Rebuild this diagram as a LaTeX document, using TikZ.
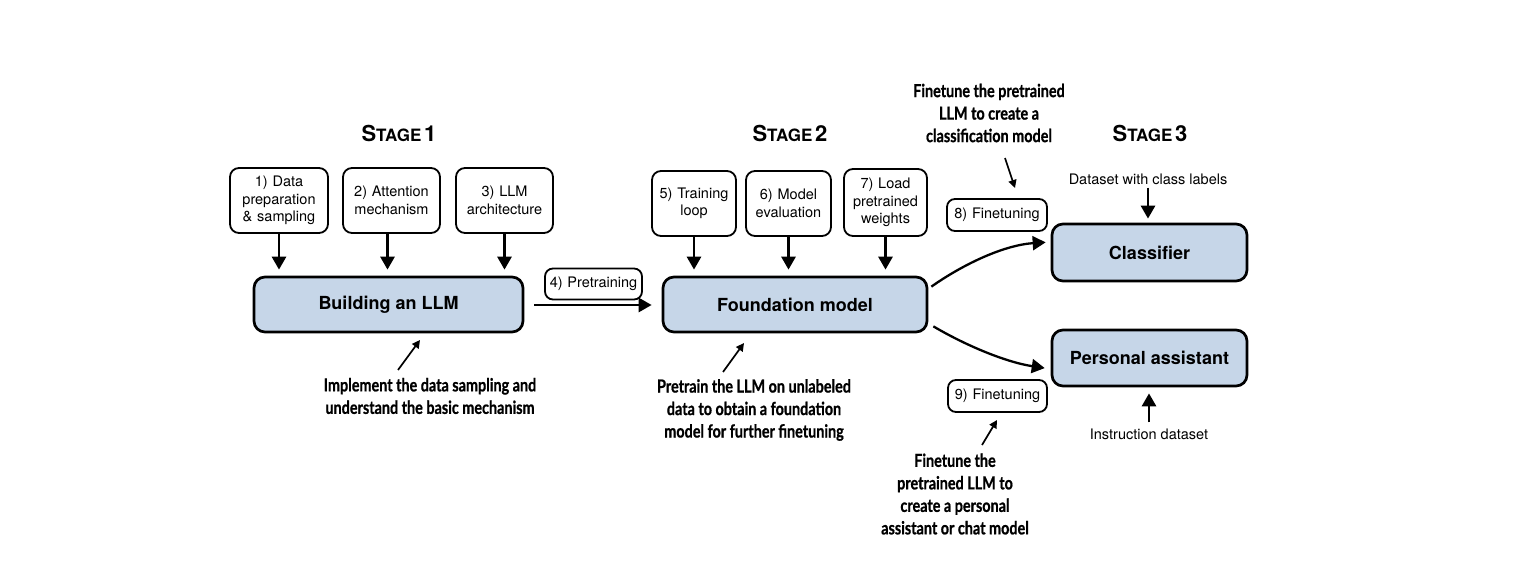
\documentclass[tikz,border=0pt]{standalone}
\usepackage{fontspec}
\setmainfont{TeX Gyre Heros}
\newfontfamily\annfont[FakeStretch=0.8, BoldFeatures={FakeBold=0.8}]{Lato}
\usetikzlibrary{arrows.meta,calc}
\definecolor{boxblue}{RGB}{198,214,232}
\tikzset{
  stepbox/.style={draw, line width=1.8pt, rounded corners=9pt, align=center,
    font=\fontsize{14.5}{17.5}\selectfont, inner sep=0pt},
  mainbox/.style={draw, line width=2.7pt, rounded corners=11pt, fill=boxblue,
    font=\bfseries\fontsize{18}{22}\selectfont, inner sep=0pt},
  plain/.style={align=center, font=\fontsize{14.5}{17.5}\selectfont, inner sep=0pt},
  ann/.style={align=center, font=\annfont\bfseries\fontsize{18}{22.5}\selectfont, inner sep=0pt},
  stagetitle/.style={font=\bfseries, inner sep=0pt},
  bigarrow/.style={line width=2.8pt, -{Triangle[width=14pt,length=13pt]}},
  thinarrow/.style={line width=1.7pt, -{Triangle[width=8pt,length=8pt]}},
}
\newcommand{\stagelabel}[1]{{\fontsize{22}{22}\selectfont S}{\fontsize{17}{17}\selectfont TAGE} {\fontsize{22}{22}\selectfont #1}}
\begin{document}
\begin{tikzpicture}[x=1pt,y=-1pt]
\useasboundingbox (0,0) rectangle (1538,569);

% stage titles
\node[stagetitle] (s1) at (399,133) {\stagelabel{1}};
\node[stagetitle] (s2) at (790,133) {\stagelabel{2}};
\node[stagetitle] (s3) at (1150,133) {\stagelabel{3}};

% stage 1
\node[stepbox, text width=98pt, minimum height=65pt] (b1) at (279,200.5) {1) Data\\preparation\\\& sampling};
\node[stepbox, text width=97pt, minimum height=65pt] (b2) at (391.5,200.5) {2) Attention\\mechanism};
\node[stepbox, text width=97pt, minimum height=65pt] (b3) at (504.5,200.5) {3) LLM\\architecture};
\node[mainbox, minimum width=269pt, minimum height=55pt] (build) at (388.5,304.5) {Building an LLM};

\draw[bigarrow, shorten >=6pt] (b1.south) -- (b1.south |- build.north);
\draw[bigarrow, shorten >=6pt] ([xshift=-4pt]b2.south) -- ([xshift=-4pt]b2.south |- build.north);
\draw[bigarrow, shorten >=6pt] (b3.south) -- (b3.south |- build.north);

\node[ann] (a1) at (430,396) {Implement the data sampling and\\understand the basic mechanism};
\coordinate (a1s) at (398,370);
\coordinate (a1e) at (420,340);
\draw[thinarrow] (a1s) -- (a1e);

% pretraining
\node[stepbox, text width=97pt, minimum height=31pt, rounded corners=8pt] (pre) at (593.5,284) {4) Pretraining};

% stage 2
\node[mainbox, minimum width=264pt, minimum height=55pt] (found) at (795,304.5) {Foundation model};
\draw[bigarrow, shorten <=10pt, shorten >=10pt] (build.east |- 0,305) -- (found.west |- 0,305);

\node[stepbox, text width=84pt, minimum height=65pt] (b5) at (694,203.5) {5) Training\\loop};
\node[stepbox, text width=85pt, minimum height=65pt] (b6) at (788.5,203.5) {6) Model\\evaluation};
\node[stepbox, text width=83pt, minimum height=67pt] (b7) at (885.5,202.5) {7) Load\\pretrained\\weights};

\draw[bigarrow, shorten >=6pt] (b5.south) -- (b5.south |- found.north);
\draw[bigarrow, shorten >=6pt] (b6.south) -- (b6.south |- found.north);
\draw[bigarrow, shorten >=6pt] (b7.south) -- (b7.south |- found.north);

\node[ann] (a2) at (754,410) {Pretrain the LLM on unlabeled\\data to obtain a foundation\\model for further finetuning};
\coordinate (a2s) at (723,372);
\coordinate (a2e) at (744,343);
\draw[thinarrow] (a2s) -- (a2e);

% stage 3
\node[mainbox, minimum width=195pt, minimum height=57pt] (cls) at (1149.5,252.5) {Classifier};
\node[mainbox, minimum width=195pt, minimum height=56pt] (pa) at (1149.5,358) {Personal assistant};

\node[plain] (ds) at (1148,179) {Dataset with class labels};
\draw[bigarrow, shorten <=3pt, shorten >=4pt] (ds.south) -- (ds.south |- cls.north);
\node[plain] (inst) at (1149,434) {Instruction dataset};
\draw[bigarrow, shorten <=6pt, shorten >=6pt] (inst.north) -- (inst.north |- pa.south);

\node[stepbox, text width=100pt, minimum height=32pt, rounded corners=8pt] (ft8) at (997,215) {8) Finetuning};
\node[stepbox, text width=99pt, minimum height=32pt, rounded corners=8pt] (ft9) at (997.5,396) {9) Finetuning};

\node[ann] (a3) at (989,113) {Finetune the pretrained\\LLM to create a\\classification model};
\coordinate (a3s) at (1005,158);
\coordinate (a3e) at (1015,188);
\draw[thinarrow] (a3s) -- (a3e);

\node[ann] (a4) at (955,494) {Finetune the\\pretrained LLM to\\create a personal\\assistant or chat model};
\coordinate (a4s) at (982,445);
\coordinate (a4e) at (997,420);
\draw[thinarrow] (a4s) -- (a4e);

% curved connectors
\coordinate (c1s) at ($(found.north east)+(3,11)$);
\coordinate (c2s) at ($(found.south east)+(5,-7)$);
\draw[bigarrow, line width=2.3pt, shorten >=5pt] (c1s) .. controls (965,263) and (1005,245) .. (cls.west |- 0,242);
\draw[bigarrow, line width=2.3pt, shorten >=6pt] (c2s) .. controls (965,345) and (1005,362) .. (pa.west |- 0,369);
\end{tikzpicture}
\end{document}
